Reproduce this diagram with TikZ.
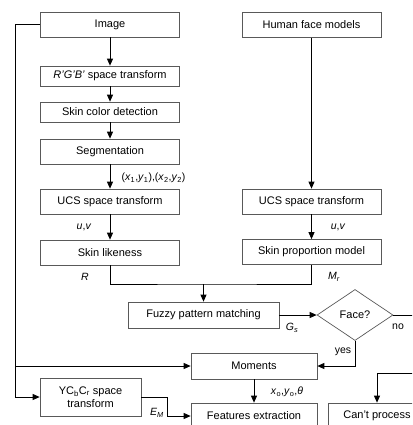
\documentclass[tikz,border=0pt]{standalone}
\usepackage{fontspec}
\setmainfont{Liberation Sans}
\usetikzlibrary{arrows.meta,shapes.geometric}

\begin{document}
\begin{tikzpicture}[x=1pt,y=-1pt,
  box/.style={draw=black!65, line width=0.7pt, minimum height=25pt, inner sep=0pt, font=\fontsize{11}{13}\selectfont},
  conn/.style={line width=0.8pt},
  arr/.style={conn, -{Triangle[length=7pt,width=6pt]}},
  lbl/.style={inner sep=0pt, font=\fontsize{10.5}{12}\selectfont}]
\useasboundingbox (0,0) rectangle (412,425);
\clip (0,0) rectangle (412,425);
\node[box, minimum width=139pt] (img) at (110,24.5) {Image};
\node[box, minimum width=139pt, minimum height=20pt] (rgb) at (110,76) {\textit{R'G'B'} space transform};
\node[box, minimum width=139pt, minimum height=20pt] (skin) at (110,112) {Skin color detection};
\node[box, minimum width=139pt] (seg) at (110,151.5) {Segmentation};
\node[box, minimum width=139pt] (ucsl) at (110,201.5) {UCS space transform};
\node[box, minimum width=139pt] (like) at (110,252.5) {Skin likeness};
\node[box, minimum width=139pt] (hfm) at (311.5,25) {Human face models};
\node[box, minimum width=139pt] (ucsr) at (311.5,201.5) {UCS space transform};
\node[box, minimum width=139pt] (prop) at (311.5,252) {Skin proportion model};
\node[box, minimum width=151pt, minimum height=26pt] (fuzzy) at (203.5,315) {Fuzzy pattern matching};
\node[box, diamond, aspect=1.5, minimum width=76pt, minimum height=51pt] (face) at (355,315) {Face?};
\node[box, minimum width=126pt, minimum height=26pt] (mom) at (254,366) {Moments};
\node[box, minimum width=101pt, minimum height=38pt, align=center] (ycc) at (90.5,397) {YC\textsubscript{b}C\textsubscript{r} space\\transform};
\node[box, minimum width=126pt, minimum height=26pt] (feat) at (254,416) {Features extraction};
\node[box, minimum width=98pt, minimum height=26pt] (cant) at (377,416) {Can't process};
\node[lbl] (lxy) at (153.5,178) {(\textit{x}\textsubscript{1},\textit{y}\textsubscript{1}),(\textit{x}\textsubscript{2},\textit{y}\textsubscript{2})};
\node[lbl] (luvl) at (84,227) {\textit{u},\textit{v}};
\node[lbl] (luvr) at (338,227) {\textit{u},\textit{v}};
\node[lbl] (lr) at (85,277) {\textit{R}};
\node[lbl] (lmr) at (334,277) {\textit{M}\textsubscript{\textit{r}}};
\node[lbl] (lgs) at (292,328) {\textit{G}\textsubscript{\textit{s}}};
\node[lbl] (lno) at (398,327) {no};
\node[lbl] (lyes) at (343,352) {yes};
\node[lbl] (lxyt) at (287,392) {\textit{x}\textsubscript{o},\textit{y}\textsubscript{o},\textit{θ}};
\node[lbl] (lem) at (157,413) {\textit{E}\textsubscript{\textit{M}}};
\draw[arr] (img) -- (rgb);
\draw[arr] (rgb) -- (skin);
\draw[arr] (skin) -- (seg);
\draw[arr] (seg) -- (ucsl);
\draw[arr] (ucsl) -- (like);
\draw[arr] (hfm) -- (ucsr);
\draw[arr] (ucsr) -- (prop);
\coordinate (join) at (203.5,284);
\draw[conn] (like.south) |- (join) -| (prop.south);
\draw[arr] (join) -- (fuzzy);
\draw[arr] (fuzzy) -- (face);
\draw[arr] (face.south) |- (mom.east);
\coordinate (lft) at (15,397);
\draw[arr] (img.west) -| (lft) -- (ycc.west);
\draw[arr] (lft |- mom.west) -- (mom.west);
\draw[arr] (ycc.east) -- ++(26,0) |- (feat.west);
\draw[arr] (mom) -- (feat);
\coordinate (off) at (440,373);
\draw[conn] (face.east) -| (off);
\draw[arr] (off) -| (cant.north);
\end{tikzpicture}
\end{document}
